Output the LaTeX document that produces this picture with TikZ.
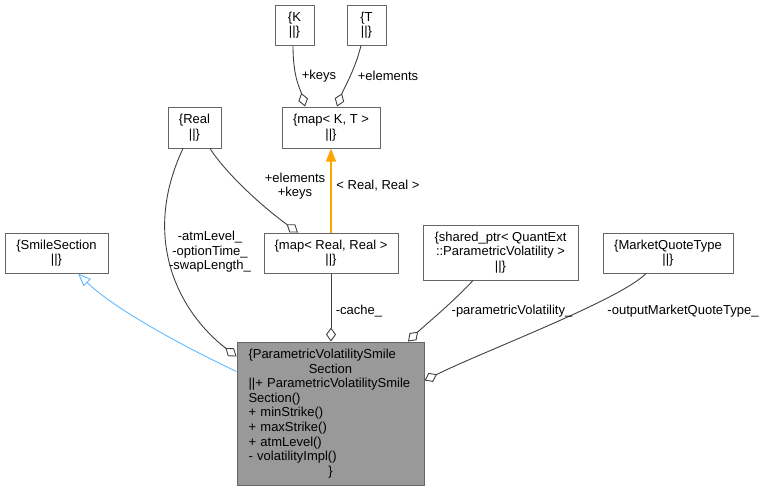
\documentclass[tikz,border=0pt]{standalone}
\usepackage{fontspec}
\setmainfont{Liberation Sans}
\usetikzlibrary{arrows.meta}
\definecolor{edgegray}{HTML}{404040}
\definecolor{boxborder}{HTML}{666666}
\definecolor{mainfill}{HTML}{999999}
\definecolor{inhblue}{HTML}{63B8FF}
\definecolor{tmplorange}{HTML}{FFA500}
\tikzset{
  txt/.style={font=\fontsize{13}{14.6}\selectfont},
  clsbox/.style={txt, draw=boxborder, line width=1pt, fill=white, align=center, inner sep=0pt, minimum height=40pt},
  mainbox/.style={txt, draw=boxborder, line width=1pt, fill=mainfill, align=left, inner xsep=11.5pt, inner ysep=0pt, text width=164pt, minimum height=143pt},
  usesedge/.style={draw=edgegray, line width=0.9pt, -{Diamond[length=14pt, width=10pt, fill=white]}},
  inhedge/.style={draw=inhblue, line width=0.9pt, -{Triangle[length=13pt, width=10pt, fill=white]}},
  tmpledge/.style={draw=tmplorange, line width=1.5pt, -{Triangle[length=13pt, width=10pt]}},
  lbl/.style={txt, align=center, inner sep=0pt}
}
\begin{document}
\begin{tikzpicture}[x=1pt, y=-1pt]
\useasboundingbox (0,0) rectangle (761,491);
% nodes
\node[clsbox, minimum width=39pt] (K) at (294.5,25) {\{K\\||\}};
\node[clsbox, minimum width=39pt] (T) at (366.5,25) {\{T\\||\}};
\node[clsbox, minimum width=98pt, minimum height=41pt] (mapKT) at (331,127.5) {\{map< K, T >\\||\}};
\node[clsbox, minimum width=53pt, minimum height=41pt] (Real) at (194.5,127.5) {\{Real\\||\}};
\node[clsbox, minimum width=103pt] (SS) at (56.5,253) {\{SmileSection\\||\}};
\node[clsbox, minimum width=134pt] (mapRR) at (331,253) {\{map< Real, Real >\\||\}};
\node[clsbox, minimum width=155pt, minimum height=55pt] (SP) at (500.5,252.5) {\{shared\_ptr< QuantExt\\::ParametricVolatility >\\||\}};
\node[clsbox, minimum width=130pt] (MQT) at (668,253) {\{MarketQuoteType\\||\}};
\node[mainbox] (main) at (330.5,413.5) {\{ParametricVolatilitySmile\\
\makebox[164pt][c]{Section}\\
||+ ParametricVolatilitySmile\\
Section()\\
+ minStrike()\\
+ maxStrike()\\
+ atmLevel()\\
- volatilityImpl()\\
\makebox[164pt][c]{\}}};
% edges
\draw[usesedge] ([xshift=-1.5pt]K.south) .. controls (293,78) and (300,88) .. ([xshift=-26pt]mapKT.north);
\draw[usesedge] ([xshift=-5.5pt]T.south) .. controls (355,70) and (344,88) .. ([xshift=6pt]mapKT.north);
\draw[tmpledge] (mapRR.north) -- (mapKT.south);
\draw[usesedge] ([xshift=15.5pt]Real.south) .. controls (225,172) and (260,205) .. ([xshift=-33pt]mapRR.north);
\draw[usesedge] ([xshift=-11.5pt]Real.south) .. controls (140,240) and (180,313) .. ([yshift=-15pt]main.north west);
\draw[inhedge] ([yshift=-30pt]main.north west) .. controls (170,340) and (110,305) .. ([xshift=21.5pt]SS.south);
\draw[usesedge] (mapRR.south) -- (mapRR.south |- main.north);
\draw[usesedge] ([xshift=-27.5pt]SP.south) .. controls (450,305) and (425,325) .. ([xshift=77.5pt]main.north);
\draw[usesedge] ([xshift=-22pt]MQT.south) .. controls (620,300) and (484,351) .. ([yshift=-39pt]main.north east);
% labels
\node[lbl] (lkeys) at (319,76) {+keys};
\node[lbl] (lelem) at (388,76) {+elements};
\node[lbl] (lrr) at (378,186) {< Real, Real >};
\node[lbl] (lek) at (295,186) {+elements\\+keys};
\node[lbl] (latm) at (210,252) {-atmLevel\_\\-optionTime\_\\-swapLength\_};
\node[lbl] (lcache) at (359,311) {-cache\_};
\node[lbl] (lpv) at (512,311) {-parametricVolatility\_};
\node[lbl] (lomq) at (683,311) {-outputMarketQuoteType\_};
\end{tikzpicture}
\end{document}
